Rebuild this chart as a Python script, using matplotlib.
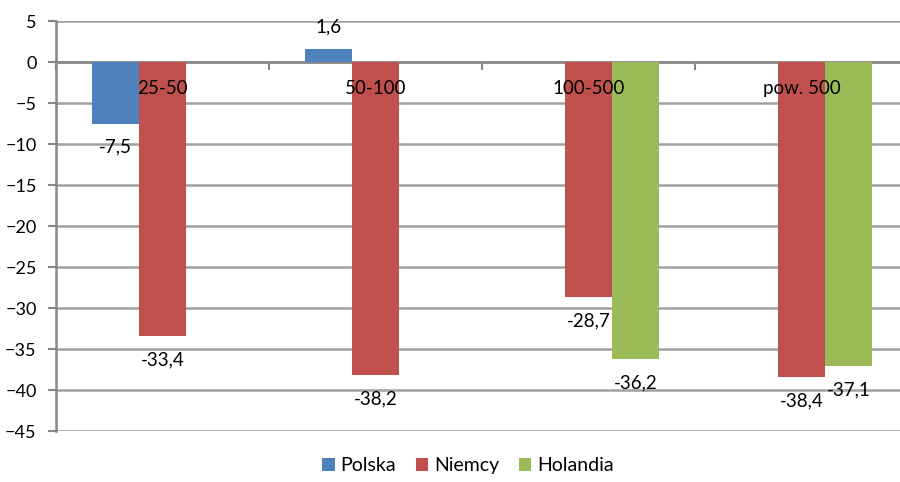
import numpy as np
import matplotlib.pyplot as plt

kategorie = ["25-50", "50-100", "100-500", "pow. 500"]
polska = [-7.5, 1.6, np.nan, np.nan]
niemcy = [-33.4, -38.2, -28.7, -38.4]
holandia = [np.nan, np.nan, -36.2, -37.1]
serie = [("Polska", polska, "#4F81BD"),
         ("Niemcy", niemcy, "#C0504D"),
         ("Holandia", holandia, "#9BBB59")]

plt.rcParams['font.family'] = ['Lato', 'DejaVu Sans']

fig = plt.figure(figsize=(9, 4.82), dpi=100)
ax = fig.add_axes([0.0622, 0.1058, 0.9467, 0.8506])

x = np.arange(len(kategorie))
szer = 0.22
for i, (nazwa, wartosci, kolor) in enumerate(serie):
    pozycje = x + (i - 1) * szer
    ax.bar(pozycje, wartosci, szer, color=kolor, label=nazwa, zorder=3)
    for px, w in zip(pozycje, wartosci):
        if np.isnan(w):
            continue
        dy = 16 if w > 0 else -17
        ax.annotate(f"{w:.1f}".replace(".", ","), (px, w), xytext=(0, dy),
                    textcoords="offset points", ha="center", va="center",
                    fontsize=13.5, color="black", zorder=4)

ax.set_xlim(-0.5, len(kategorie) - 0.5)
ax.set_ylim(-45, 5)
ax.set_yticks(np.arange(-45, 6, 5))
ax.yaxis.grid(True, color="#A0A0A0", linewidth=1.8, zorder=0)
ax.set_axisbelow(True)

# os kategorii przechodzi przez zero
ax.spines['top'].set_visible(False)
ax.spines['right'].set_visible(False)
ax.spines['bottom'].set_position(('data', 0))
ax.spines['bottom'].set_color("#868686")
ax.spines['bottom'].set_linewidth(1.8)
ax.spines['bottom'].set_zorder(2)
ax.spines['left'].set_color("#868686")
ax.spines['left'].set_linewidth(1.8)

ax.set_xticks(np.arange(-0.5, len(kategorie), 1))
ax.set_xticklabels([])
ax.tick_params(axis='x', direction='out', length=6, color="#868686", width=1.5)
ax.tick_params(axis='y', direction='out', length=6, color="#868686", width=1.5,
               labelsize=13, pad=8)

for xi, k in zip(x, kategorie):
    ax.text(xi, -3.2, k, ha="center", va="center", fontsize=13.5, zorder=5)

fig.legend(loc="lower center", bbox_to_anchor=(0.52, -0.02), ncol=3, frameon=False,
           fontsize=14, handlelength=0.65, handleheight=0.65, handletextpad=0.3,
           columnspacing=1.0)

fig.savefig("out.png", dpi=100)
